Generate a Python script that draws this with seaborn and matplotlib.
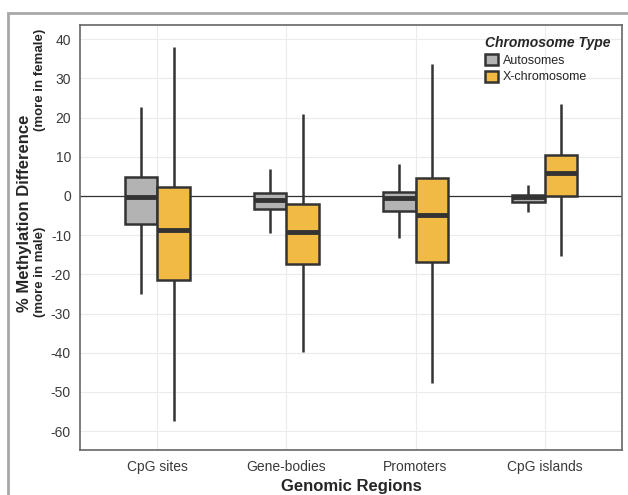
import numpy as np
import pandas as pd
import matplotlib.pyplot as plt
import seaborn as sns
from matplotlib.patches import Rectangle

# five-number summaries: low whisker, Q1, median, Q3, high whisker
regions = ["CpG sites", "Gene-bodies", "Promoters", "CpG islands"]
types = ["Autosomes", "X-chromosome"]

auto_stats = [
    [-25.1, -7.2, -0.2, 4.8, 22.8],
    [-9.5, -3.4, -1.0, 0.7, 6.8],
    [-10.8, -3.8, -0.5, 1.0, 8.2],
    [-4.0, -1.6, -0.3, 0.2, 2.7],
]
x_stats = [
    [-57.5, -21.5, -8.8, 2.3, 38.0],
    [-39.8, -17.4, -9.2, -2.1, 20.8],
    [-47.7, -16.8, -4.9, 4.6, 33.6],
    [-15.4, -0.1, 5.8, 10.5, 23.4],
]

rows = []
for reg, a, xs in zip(regions, auto_stats, x_stats):
    for v in a:
        rows.append((reg, "Autosomes", v))
    for v in xs:
        rows.append((reg, "X-chromosome", v))
df = pd.DataFrame(rows, columns=["Region", "Type", "Diff"])

sns.set_style("white")
plt.rcParams['font.family'] = ['Liberation Sans', 'DejaVu Sans']
plt.rcParams['axes.unicode_minus'] = False

fig = plt.figure(figsize=(6.28, 4.95), dpi=100)
ax = fig.add_axes([80/628, 45/495, 542/628, 425/495])

ax.axhline(0, color="#333333", lw=0.9, zorder=1)
sns.boxplot(data=df, x="Region", y="Diff", hue="Type", order=regions, hue_order=types,
            palette=["#B3B3B3", "#F0BA45"], saturation=1, width=0.5, gap=0,
            whis=(0, 100), showcaps=False, fliersize=0,
            linecolor="#333333", linewidth=1.8,
            medianprops=dict(linewidth=3.5, color="#333333"), ax=ax, zorder=2)

ax.set_xlim(-0.6, 3.6)
ax.set_ylim(-64.8, 43.6)
ax.set_yticks(np.arange(-60, 41, 10))
ax.grid(True, color="#ebebeb", lw=0.8)
ax.set_axisbelow(True)
for s in ax.spines.values():
    s.set_color("#666666")
    s.set_linewidth(1.2)
ax.tick_params(axis="both", length=3, color="#666666", labelsize=10, labelcolor="#3a3a3a", width=0.8)
ax.tick_params(axis="x", pad=4)

ax.set_xlabel("Genomic Regions", fontsize=12, fontweight="bold", labelpad=4)
ax.set_ylabel("")
fig.text(25/628, 1 - 213/495, "% Methylation Difference", rotation=90, ha="center", va="center",
         fontsize=12, fontweight="bold")
fig.text(40/628, 1 - 272/495, "(more in male)", rotation=90, ha="center", va="center",
         fontsize=9.5, fontweight="bold")
fig.text(40/628, 1 - 80/495, "(more in female)", rotation=90, ha="center", va="center",
         fontsize=9.5, fontweight="bold")

leg = ax.legend(loc="upper right", bbox_to_anchor=(1.0, 1.0), frameon=False, title="Chromosome Type",
                fontsize=9, handlelength=1.0, handleheight=1.0, handletextpad=0.4, labelspacing=0.3)
leg.get_title().set_fontweight("bold")
leg.get_title().set_fontstyle("italic")
leg.get_title().set_fontsize(10)
leg._legend_box.align = "left"

fig.patches.append(Rectangle((8/628, -0.1), 1.2, 1 - 13/495 + 0.1, transform=fig.transFigure,
                             fill=False, edgecolor="#a8a8a8", lw=2))

fig.savefig("out.png", dpi=100)
